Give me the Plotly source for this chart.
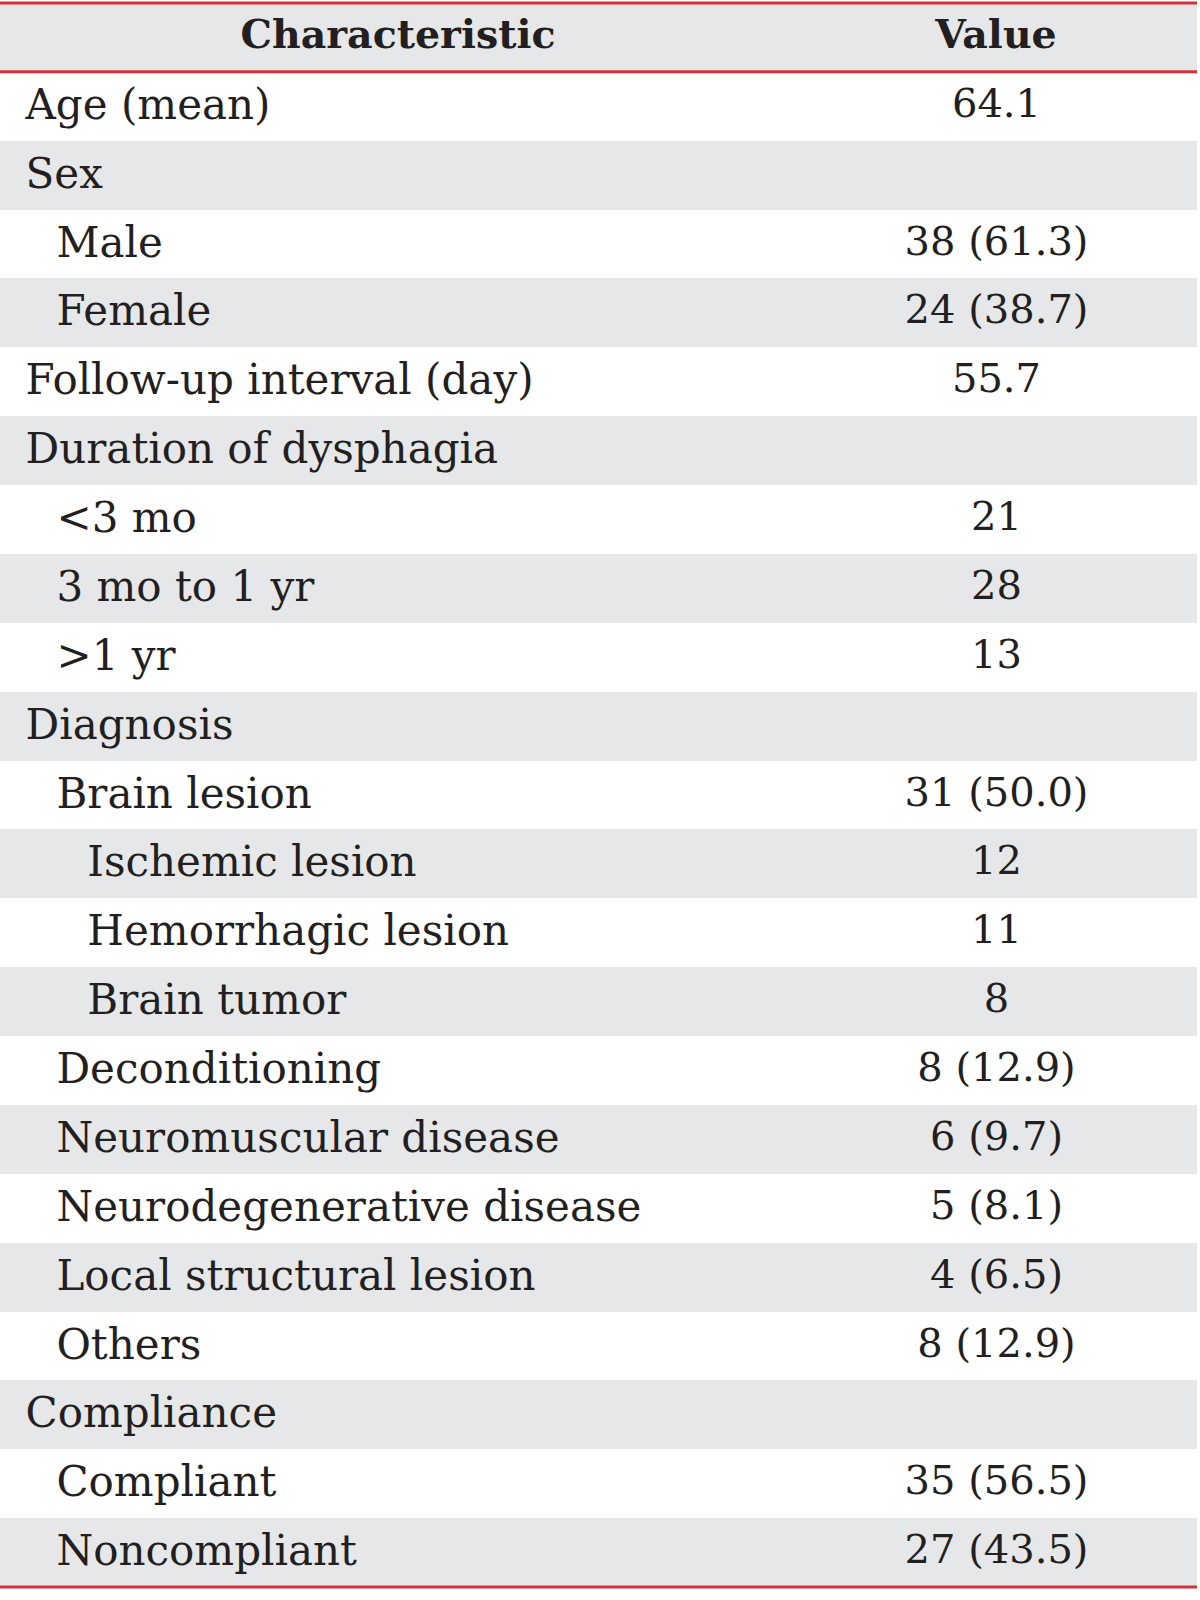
import html
import plotly.graph_objects as go

header = ["Characteristic", "Value"]
characteristics = [
    "Age (mean)", "Sex", "Male", "Female", "Follow-up interval (day)",
    "Duration of dysphagia", "<3 mo", "3 mo to 1 yr", ">1 yr", "Diagnosis",
    "Brain lesion", "Ischemic lesion", "Hemorrhagic lesion", "Brain tumor",
    "Deconditioning", "Neuromuscular disease", "Neurodegenerative disease",
    "Local structural lesion", "Others", "Compliance", "Compliant", "Noncompliant",
]
indent_levels = [0, 0, 1, 1, 0, 0, 1, 1, 1, 0, 1, 2, 2, 2, 1, 1, 1, 1, 1, 0, 1, 1]
values = [
    "64.1", "", "38 (61.3)", "24 (38.7)", "55.7", "", "21", "28", "13", "",
    "31 (50.0)", "12", "11", "8", "8 (12.9)", "6 (9.7)", "5 (8.1)", "4 (6.5)",
    "8 (12.9)", "", "35 (56.5)", "27 (43.5)",
]

W, H = 1200, 1600
GRAY = "#e6e7e8"
RED = "#d3303a"
TXT = "#231f20"
FONT = "DejaVu Serif"
FS = 42

top_y = 3.0
bottom_y = 1587.0
n_rows = len(characteristics) + 1
row_h = (bottom_y - top_y) / n_rows
table_right = 1197


def indent(s, lvl):
    pre = "&#8202;&#160;" + ("&#8199;&#8202;" * lvl)
    return pre + html.escape(s, quote=False)


col1 = [indent(s, l) for s, l in zip(characteristics, indent_levels)]
col2 = ["<span>%s</span>" % html.escape(v, quote=False) for v in values]
fills = [("white" if i % 2 == 0 else GRAY) for i in range(len(characteristics))]

fig = go.Figure(go.Table(
    domain=dict(x=[0, table_right / W], y=[1 - bottom_y / H, 1 - top_y / H]),
    columnwidth=[796, 401],
    header=dict(
        values=["<b>%s</b>" % h for h in header],
        fill_color=GRAY,
        line=dict(width=0, color=GRAY),
        align="center",
        font=dict(family=FONT, size=39.5, color=TXT),
        height=row_h,
    ),
    cells=dict(
        values=[col1, col2],
        fill_color=[fills, fills],
        line=dict(width=0, color="white"),
        align=["left", "center"],
        font=dict(family=FONT, size=[FS, 40], color=TXT),
        height=row_h,
    ),
))

for y in [top_y, top_y + row_h, bottom_y]:
    fig.add_shape(type="line", xref="paper", yref="paper",
                  x0=0, x1=table_right / W, y0=1 - y / H, y1=1 - y / H,
                  line=dict(color=RED, width=3))

fig.update_layout(width=W, height=H, margin=dict(l=0, r=0, t=0, b=0),
                  paper_bgcolor="white", plot_bgcolor="white")
fig.write_html(
    "out.html",
    config={"displayModeBar": False},
    post_script="document.body.style.margin='0';document.body.style.overflow='hidden';",
)
